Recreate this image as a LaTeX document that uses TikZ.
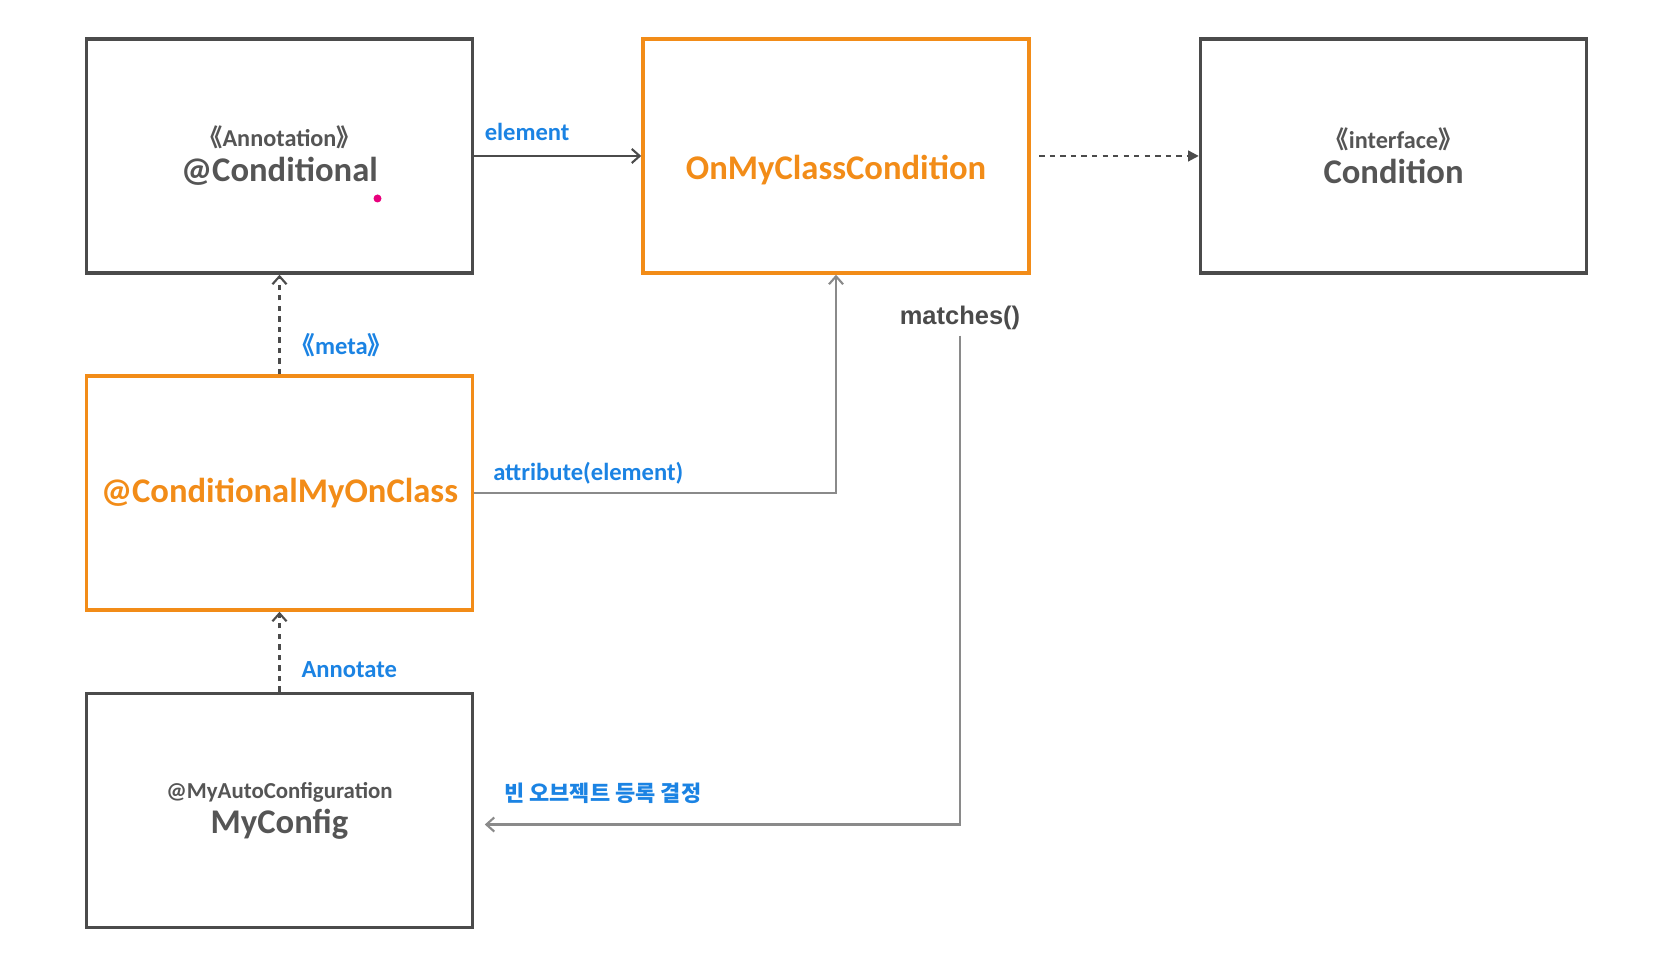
\documentclass[tikz,border=0pt]{standalone}
\usepackage{fontspec}
\setmainfont{Carlito}
\newfontfamily\cjk{Noto Sans CJK KR}
\newfontfamily\arialfont{Liberation Sans}
\usetikzlibrary{positioning,arrows.meta}

\definecolor{boxgray}{HTML}{4B4B4B}
\definecolor{textgray}{HTML}{555555}
\definecolor{wiregray}{HTML}{8A8A8A}
\definecolor{mainorange}{HTML}{F28C18}
\definecolor{labelblue}{HTML}{1B83E3}
\definecolor{ptrpink}{HTML}{E8007D}

\newcommand{\stereo}[1]{{\cjk 《}#1{\cjk 》}}

\begin{document}
\begin{tikzpicture}[
  every node/.style={
    font=\bfseries\fontsize{19.7}{20}\selectfont,
  },
  box/.style={
    draw=boxgray,
    line width=2pt,
    minimum width=7.72cm,
    minimum height=4.68cm,
    align=center,
    text=textgray,
  },
  hot/.style={
    box,
    draw=mainorange,
    text=mainorange,
  },
  lbl/.style={
    font=\bfseries\fontsize{14}{16}\selectfont,
    text=labelblue,
    inner sep=0pt,
  },
  wire/.style={
    draw=boxgray,
    line width=1.2pt,
    -{Straight Barb[length=4.5pt,width=8pt]},
  },
  gwire/.style={
    wire,
    draw=wiregray,
  },
  dep/.style={
    wire,
    dash pattern=on 3pt off 3pt,
  },
]

% canvas
\useasboundingbox (0,0) rectangle (33.08,19.12);

% top row
\node[box] (cond) at (5.59,16.0) {{\fontsize{13.8}{15}\selectfont\stereo{Annotation}}\\@Conditional};
\node[hot, right=3.34cm of cond] (onmy) {\raisebox{-8pt}[\height][\depth]{OnMyClassCondition}};
\node[box, right=3.36cm of onmy] (iface) {{\fontsize{13.8}{15}\selectfont\stereo{interface}}\\Condition};

% left column
\node[hot, below=1.99cm of cond] (meta) {@ConditionalMyOnClass};
\node[box, below=1.6cm of meta] (cfg) {{\fontsize{13}{15}\selectfont @MyAutoConfiguration}\\MyConfig};

% method name
\node[text=boxgray, font=\arialfont\bfseries\fontsize{14.5}{17}\selectfont] (match) at (19.2,12.77) {matches()};

% pointer dot
\fill[ptrpink] (7.55,15.15) circle (0.08);

% connectors
\draw[wire] (cond.east) -- node[lbl, pos=0, anchor=base west, xshift=0.19cm, yshift=0.31cm] (elbl) {element} (onmy.west);
\draw[dep, -{Triangle[length=6pt,width=6pt]}, shorten <=0.17cm] (onmy.east) -- (iface.west);
\draw[dep] (meta.north) -- node[lbl, pos=0.29, right=0.2cm] (mlbl) {\stereo{meta}} (cond.south);
\draw[dep] (cfg.north) -- node[lbl, pos=0.28, right=0.42cm] (albl) {Annotate} (meta.south);
\draw[gwire] (meta.east) -| node[lbl, pos=0, anchor=base west, xshift=0.36cm, yshift=0.26cm] (atlbl) {attribute(element)} (onmy.south);
\draw[gwire, shorten >=0.21cm] (match.south) |- node[lbl, pos=1, anchor=base west, xshift=0.58cm, yshift=0.46cm, font=\cjk\bfseries\fontsize{12.5}{15}\selectfont] (blbl) {빈 오브젝트 등록 결정} ([yshift=-0.28cm]cfg.east);

\end{tikzpicture}
\end{document}
